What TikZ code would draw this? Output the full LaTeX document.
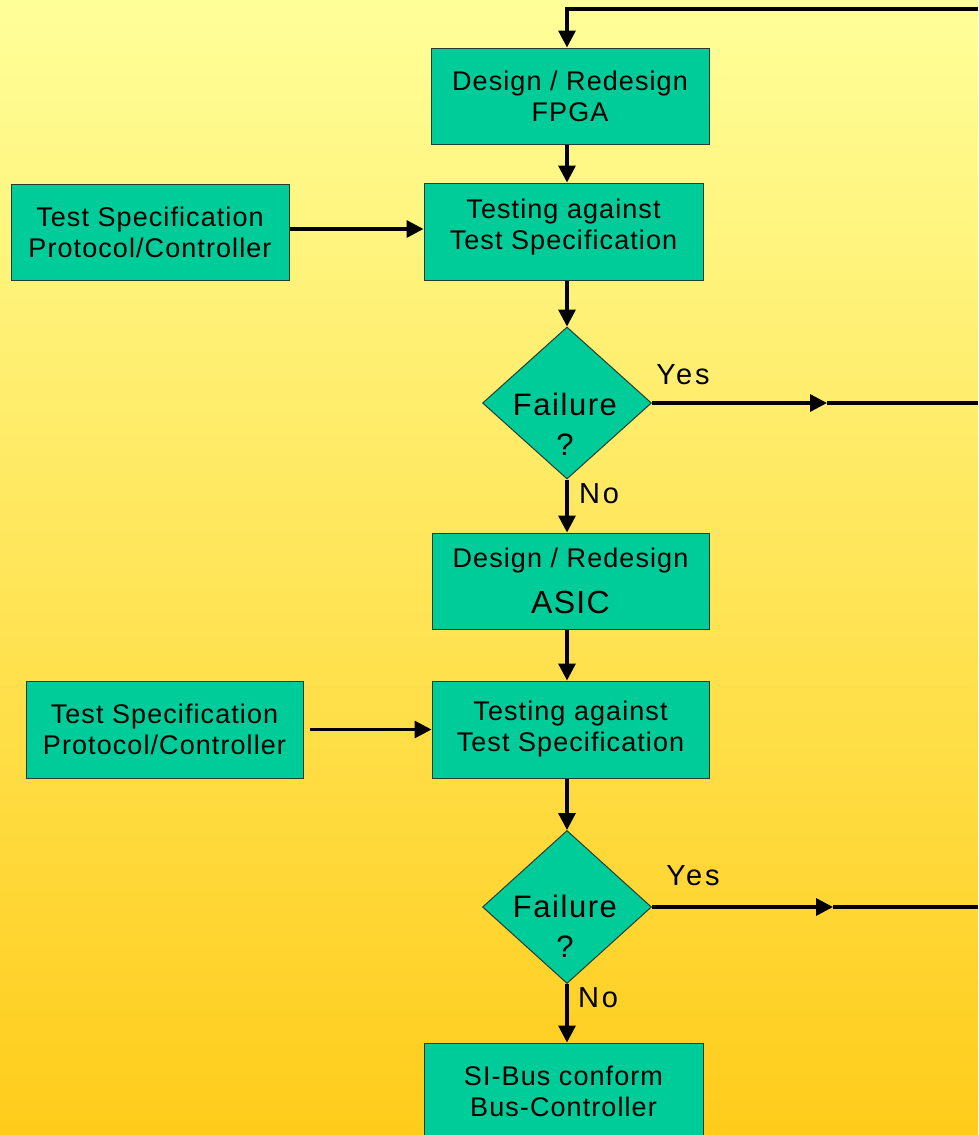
\documentclass[tikz,border=0pt]{standalone}
\usepackage{fontspec}
\setmainfont{Liberation Sans}[LetterSpace=4]
\usetikzlibrary{arrows.meta,shapes.geometric}
\definecolor{bgtop}{RGB}{255,255,153}
\definecolor{bgbot}{RGB}{255,204,26}
\definecolor{boxfill}{RGB}{0,204,153}
\definecolor{boxline}{RGB}{40,60,50}
\begin{document}
\begin{tikzpicture}[x=1pt,y=-1pt,
  box/.style={draw=boxline, line width=1pt, fill=boxfill, minimum width=278pt, minimum height=96pt, inner sep=0pt, align=center, font=\fontsize{27pt}{31pt}\selectfont},
  dia/.style={diamond, draw=boxline, line width=1pt, fill=boxfill, minimum width=169pt, minimum height=152pt, inner sep=0pt},
  dtext/.style={align=center, inner sep=0pt, font=\fontsize{31pt}{40pt}\selectfont\addfontfeatures{LetterSpace=5}},
  lbl/.style={inner sep=0pt, font=\fontsize{29pt}{32pt}\selectfont\addfontfeatures{LetterSpace=10}},
  conn/.style={line width=3.3pt, line join=miter},
  arr/.style={conn, -{Triangle[length=17pt,width=17pt]}}
]
\useasboundingbox (0,0) rectangle (978,1135);
\shade[top color=bgtop, bottom color=bgbot] (0,0) rectangle (978,1135);
\begin{scope}
\clip (0,0) rectangle (978,1135);
\node[box] (fpga) at (570,96) {Design / Redesign\\FPGA};
\node[box, minimum width=279pt, minimum height=97pt, text depth=14pt] (test1) at (563.5,231.5) {Testing against\\Test Specification};
\node[box] (spec1) at (150,232) {Test Specification\\Protocol/Controller};
\node[dia] (d1) at (567,403) {};
\node[dtext] (f1) at (565,424) {Failure\\?};
\node[lbl] (y1) at (683,375) {Yes};
\node[lbl] (n1) at (599,494) {No};
\coordinate (m1) at (827,403);
\coordinate (e1) at (978,403);
\node[box, minimum width=277pt] (asic) at (570.5,581) {Design / Redesign\\[15pt]{\fontsize{32pt}{38pt}\selectfont ASIC}};
\node[box, minimum width=277pt, minimum height=97pt] (test2) at (570.5,729.5) {Testing against\\Test Specification};
\node[box, minimum width=277pt, minimum height=97pt] (spec2) at (164.5,729.5) {Test Specification\\Protocol/Controller};
\node[dia, minimum height=153pt] (d2) at (567,907) {};
\node[dtext] (f2) at (565,926) {Failure\\?};
\node[lbl] (y2) at (693,876) {Yes};
\node[lbl] (n2) at (598,998) {No};
\coordinate (m2) at (833,907);
\coordinate (e2) at (978,907);
\node[box, minimum width=279pt, minimum height=97pt] (final) at (563.5,1091.5) {SI-Bus conform\\Bus-Controller};
\coordinate (tr) at (978,9);
\coordinate (tc) at (567,9);
\draw[arr] (tr) -- (tc) -- (fpga.north -| tc);
\draw[arr] (fpga.south -| tc) -- (test1.north -| tc);
\draw[arr] ([yshift=3pt]spec1.east) -- ([yshift=3pt]test1.west |- spec1.east);
\draw[arr] (test1.south -| tc) -- (d1.north);
\draw[arr] (d1.east) -- (m1);
\draw[conn] (m1) -- (e1);
\draw[arr] (d1.south) -- (asic.north -| d1.south);
\draw[arr] (asic.south -| tc) -- (test2.north -| tc);
\draw[arr, shorten <=6pt] (spec2.east) -- (test2.west |- spec2.east);
\draw[arr] (test2.south -| tc) -- (d2.north);
\draw[arr] (d2.east) -- (m2);
\draw[conn] (m2) -- (e2);
\draw[arr] (d2.south) -- (final.north -| d2.south);
\end{scope}
\end{tikzpicture}
\end{document}
